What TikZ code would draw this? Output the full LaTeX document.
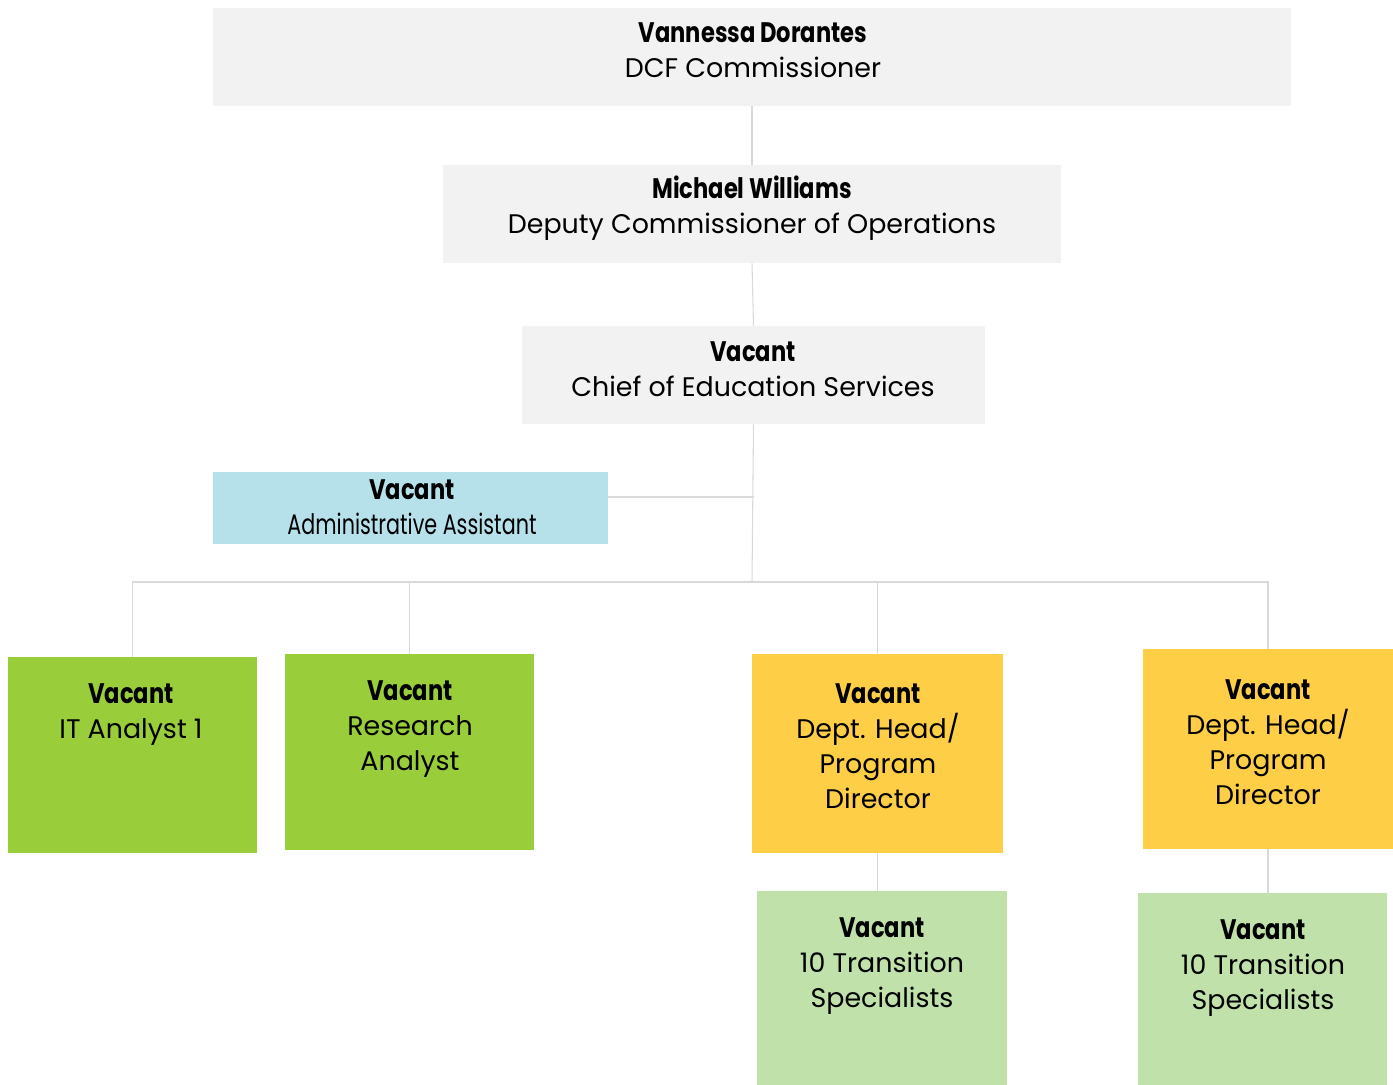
\documentclass[tikz,border=0pt]{standalone}
\usepackage{fontspec}
\setmainfont{Poppins}
\usepackage{graphicx}
\usetikzlibrary{fit}
\definecolor{boxgrey}{HTML}{F2F2F2}
\definecolor{adminblue}{HTML}{B7E1EA}
\definecolor{itgreen}{HTML}{9ACD3A}
\definecolor{headyellow}{HTML}{FFCE47}
\definecolor{tsgreen}{HTML}{C0E2AA}
\definecolor{linegrey}{HTML}{D9D9D9}
\newcommand\nm[1]{\scalebox{0.84}[1.05]{\bfseries #1}}
\newcommand\nrw[1]{\scalebox{0.77}[1.05]{#1}}
\begin{document}
\begin{tikzpicture}[x=0.02cm,y=-0.02cm,
    box/.style={inner sep=0,draw=none},
    txt/.style={align=center,inner sep=0,font=\fontsize{15.3}{19.9}\selectfont}]
  \useasboundingbox (0,0) rectangle (1393,1085);
  \node[box,fill=boxgrey,fit={(213,8) (1291,106)}] (comm) {};
  \node[box,fill=boxgrey,fit={(443,165) (1061,263)}] (dep) {};
  \node[box,fill=boxgrey,fit={(522,326) (985,424)}] (chief) {};
  \node[box,fill=adminblue,fit={(213,472) (608,544)}] (admin) {};
  \node[box,fill=itgreen,fit={(8,657) (257,853)}] (it) {};
  \node[box,fill=itgreen,fit={(285,654) (534,850)}] (res) {};
  \node[box,fill=headyellow,fit={(752,654) (1003,853)}] (head1) {};
  \node[box,fill=headyellow,fit={(1143,649) (1393,849)}] (head2) {};
  \node[box,fill=tsgreen,fit={(757,891) (1007,1085)}] (ts1) {};
  \node[box,fill=tsgreen,fit={(1138,893) (1387,1085)}] (ts2) {};
  \coordinate (split) at (752,582);
  \coordinate (hook) at ([yshift=0.22cm]admin.east);
  \begin{scope}[draw=linegrey,line width=0.6pt]
    \draw (comm.south) to (dep.north);
    \draw (dep.south) to (chief.north);
    \draw (chief.south) to (split);
    \draw (hook) to (chief.south |- hook);
    \draw (split) -| (it.north);
    \draw (split) -| (res.north);
    \draw (split) -| (head1.north);
    \draw (split) -| (head2.north);
    \draw (head1.south) to (head1.south |- ts1.north);
    \draw (head2.south) to (head2.south |- ts2.north);
  \end{scope}
  \node[txt] (comm-t) at (753,50) {\nm{Vannessa Dorantes}\\DCF Commissioner};
  \node[txt] (dep-t) at (752,208) {\nm{Michael Williams}\\Deputy Commissioner of Operations};
  \node[txt] (chief-t) at (753,369) {\nm{Vacant}\\Chief of Education Services};
  \node[txt] (admin-t) at (412,507) {\nm{Vacant}\\\nrw{Administrative Assistant}};
  \node[txt] (it-t) at (131,715) {\nm{Vacant}\\IT Analyst 1};
  \node[txt] (res-t) at (410,729) {\nm{Vacant}\\Research\\Analyst};
  \node[txt] (head1-t) at (878,746) {\nm{Vacant}\\Dept. Head/\\Program\\Director};
  \node[txt] (head2-t) at (1268,742) {\nm{Vacant}\\Dept. Head/\\Program\\Director};
  \node[txt] (ts1-t) at (882,966) {\nm{Vacant}\\10 Transition\\Specialists};
  \node[txt] (ts2-t) at (1263,968) {\nm{Vacant}\\10 Transition\\Specialists};
\end{tikzpicture}
\end{document}
